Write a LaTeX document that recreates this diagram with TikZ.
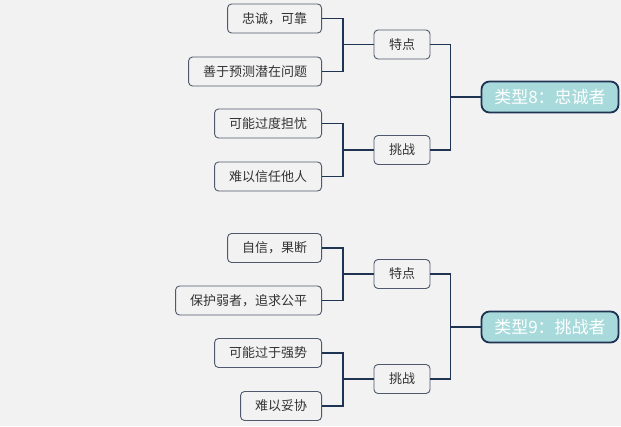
\documentclass[tikz,border=0pt]{standalone}
\usepackage{fontspec}
\setmainfont{Noto Sans CJK SC}
\usetikzlibrary{positioning}
\definecolor{bgcol}{HTML}{F2F2F2}
\definecolor{linecol}{HTML}{1F3452}
\definecolor{boxline}{HTML}{4E5A6B}
\definecolor{txtcol}{HTML}{333333}
\definecolor{rootfill}{HTML}{A8DADB}

\begin{document}
\begin{tikzpicture}[
    x=1pt, y=-1pt,
    leaf/.style={rectangle, rounded corners=4pt, draw=boxline, line width=0.9pt, fill=bgcol, minimum height=29pt, inner xsep=14.5pt, inner ysep=0pt, text=txtcol, font=\fontsize{13}{15}\selectfont},
    mid/.style={leaf, minimum width=56pt, inner xsep=0pt},
    root/.style={rectangle, rounded corners=8pt, draw=linecol, line width=1.8pt, fill=rootfill, minimum width=137pt, minimum height=31pt, inner sep=0pt, text=white, font=\fontsize{17}{19}\selectfont},
    link/.style={draw=linecol, line width=1.8pt}
]
    \useasboundingbox[fill=bgcol] (0,0) rectangle (621,426);

    % type 8
    \node[root] (r8) at (550,97) {类型8：忠诚者};
    \node[mid] (t8a) at (402,44.5) {特点};
    \node[mid] (t8b) at (402,150) {挑战};
    \node[leaf, anchor=east] (l8a) at (322,18.5) {忠诚，可靠};
    \node[leaf, anchor=east] (l8b) at (322,71.5) {善于预测潜在问题};
    \node[leaf, anchor=east] (l8c) at (322,123.5) {可能过度担忧};
    \node[leaf, anchor=east] (l8d) at (322,176.5) {难以信任他人};

    \draw[link] (l8a.east) -- ++(21,0) |- (t8a.west);
    \draw[link] (l8b.east) -- ++(21,0) |- (t8a.west);
    \draw[link] (l8c.east) -- ++(21,0) |- (t8b.west);
    \draw[link] (l8d.east) -- ++(21,0) |- (t8b.west);
    \draw[link] (t8a.east) -- ++(20,0) |- (r8.west);
    \draw[link] (t8b.east) -- ++(20,0) |- (r8.west);

    % type 9
    \node[root] (r9) at (550,327) {类型9：挑战者};
    \node[mid] (t9a) at (402,274) {特点};
    \node[mid] (t9b) at (402,379) {挑战};
    \node[leaf, anchor=east] (l9a) at (322,248) {自信，果断};
    \node[leaf, anchor=east] (l9b) at (322,300.5) {保护弱者，追求公平};
    \node[leaf, anchor=east] (l9c) at (322,353) {可能过于强势};
    \node[leaf, anchor=east] (l9d) at (322,406) {难以妥协};

    \draw[link] (l9a.east) -- ++(21,0) |- (t9a.west);
    \draw[link] (l9b.east) -- ++(21,0) |- (t9a.west);
    \draw[link] (l9c.east) -- ++(21,0) |- (t9b.west);
    \draw[link] (l9d.east) -- ++(21,0) |- (t9b.west);
    \draw[link] (t9a.east) -- ++(20,0) |- (r9.west);
    \draw[link] (t9b.east) -- ++(20,0) |- (r9.west);
\end{tikzpicture}
\end{document}
